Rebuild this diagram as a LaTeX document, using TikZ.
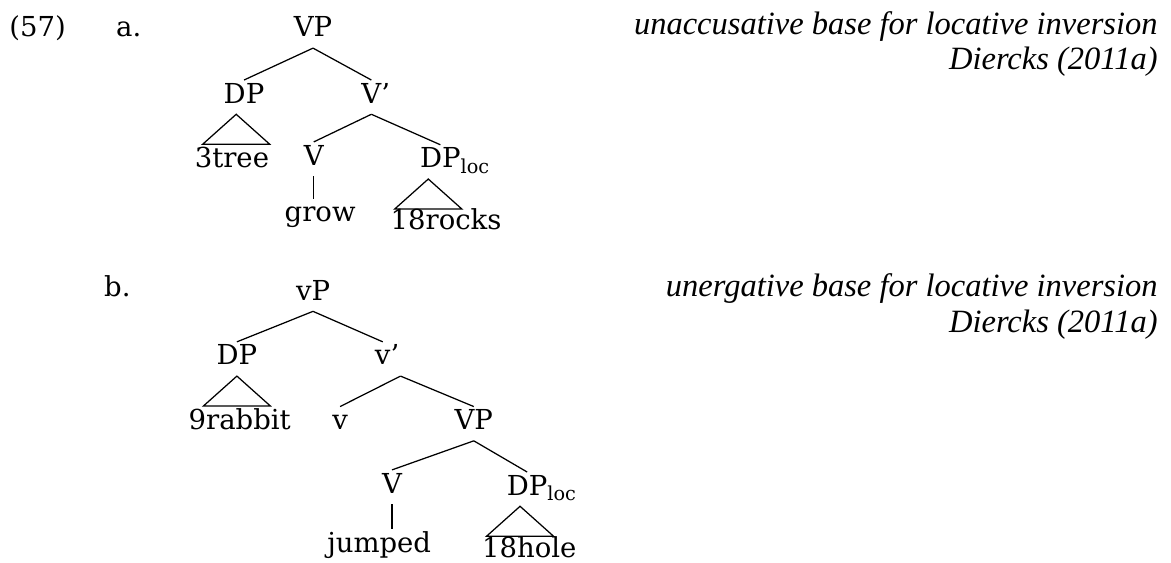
\documentclass[tikz,border=0pt]{standalone}
\usepackage{fontspec}
\setmainfont{DejaVu Serif}
\newfontfamily\notefont{Liberation Serif}
\usetikzlibrary{calc}

\begin{document}
\begin{tikzpicture}[
  lab/.style={inner sep=0pt,text height=9pt,text depth=4.2pt,anchor=base,font=\fontsize{11}{13}\selectfont},
  note/.style={inner sep=0pt,anchor=base east,font=\notefont\itshape\fontsize{13}{15}\selectfont},
  every path/.style={line width=0.5pt}]
  \useasboundingbox (0,0) rectangle (16.46,7.90);
  % example number and item letters
  \node[lab] (ex) at (0.53,7.38){(57)};
  \node[lab] (ia) at (1.81,7.38){a.};
  \node[lab] (ib) at (1.65,3.73){b.};
  % a. unaccusative tree
  \node[lab] (vpa) at (4.40,7.38){VP};
  \node[lab] (dpa) at (3.43,6.45){DP};\node[lab] (vbara) at (5.22,6.45){V\rlap{’}};
  \node[lab] (treea) at (3.26,5.55){3tree};
  \node[lab] (va) at (4.41,5.58){V};\node[lab] (dploca) at (6.19,5.54){DP\rlap{\textsubscript{loc}}};
  \node[lab] (growa) at (4.50,4.78){grow};\node[lab] (rocksa) at (6.27,4.67){18rocks};
  \draw (vpa.south)--(dpa.north);\draw (vpa.south)--(vbara.north);
  \draw (vbara.south)--(va.north);\draw (vbara.south)--(dploca.north);
  \draw (va.south)--(va.south |- growa.north);
  \draw ($(dpa.south)+(-0.11,0)$)--++(-0.47,-0.42)--++(0.94,0)--cycle;
  \draw ($(dploca.south)+(-0.17,0)$)--++(-0.47,-0.42)--++(0.94,0)--cycle;
  \node[note] (nota) at (16.28,7.41){unaccusative base for locative inversion};
  \node[note] (srca) at (16.28,6.92){Diercks (2011a)};
  % b. unergative tree
  \node[lab] (vpb) at (4.40,3.68){vP};
  \node[lab] (dpb) at (3.33,2.77){DP};\node[lab] (vbarb) at (5.38,2.77){v\rlap{’}};
  \node[lab] (rabbitb) at (3.37,1.86){9rabbit};
  \node[lab] (vb) at (4.78,1.86){v};\node[lab] (vpbb) at (6.66,1.86){VP};
  \node[lab] (vvb) at (5.51,0.97){V};\node[lab] (dplocb) at (7.41,0.94){DP\rlap{\textsubscript{loc}}};
  \node[lab] (jumpedb) at (5.33,0.14){jumped};\node[lab] (holeb) at (7.44,0.07){18hole};
  \draw (vpb.south)--(dpb.north);\draw (vpb.south)--(vbarb.north);
  \draw ($(vbarb.south)+(0.25,0)$)--(vb.north);\draw ($(vbarb.south)+(0.25,0)$)--(vpbb.north);
  \draw (vpbb.south)--(vvb.north);\draw (vpbb.south)--(dplocb.north);
  \draw (vvb.south)--(vvb.south |- jumpedb.north);
  \draw (dpb.south)--++(-0.47,-0.42)--++(0.94,0)--cycle;
  \draw ($(dplocb.south)+(-0.1,0)$)--++(-0.47,-0.42)--++(0.94,0)--cycle;
  \node[note] (notb) at (16.28,3.73){unergative base for locative inversion};
  \node[note] (srcb) at (16.28,3.23){Diercks (2011a)};
\end{tikzpicture}
\end{document}
